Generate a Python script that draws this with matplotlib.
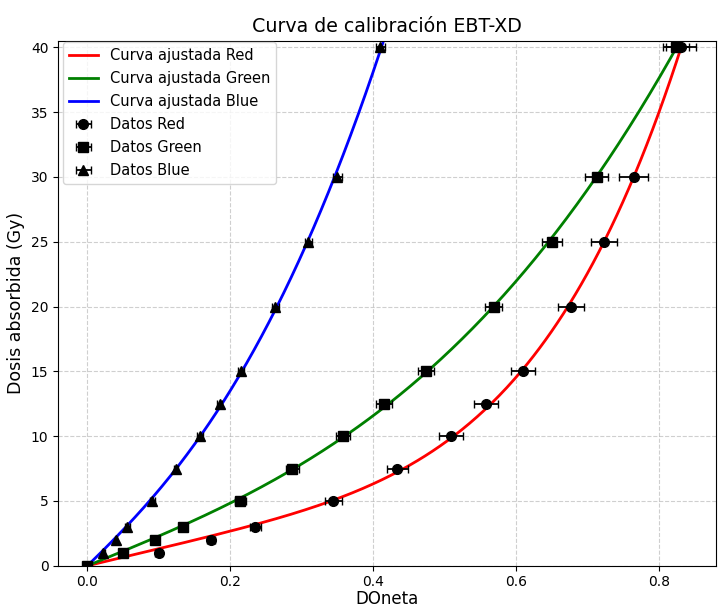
import numpy as np
import matplotlib.pyplot as plt

# Dosis (Gy) y densidad óptica neta por canal
dosis = [0, 1, 2, 3, 5, 7.5, 10, 12.5, 15, 20, 25, 30, 40]
don_red = [0, 0.100, 0.173, 0.235, 0.344, 0.434, 0.509, 0.558, 0.610, 0.677, 0.723, 0.765, 0.831]
don_green = [0, 0.050, 0.095, 0.134, 0.214, 0.287, 0.358, 0.415, 0.474, 0.569, 0.650, 0.713, 0.824]
don_blue = [0, 0.022, 0.040, 0.056, 0.091, 0.124, 0.158, 0.185, 0.215, 0.263, 0.309, 0.350, 0.410]
err_red = [0, 0.005, 0.006, 0.008, 0.012, 0.015, 0.017, 0.017, 0.017, 0.018, 0.018, 0.020, 0.021]
err_green = [0, 0.004, 0.005, 0.006, 0.008, 0.009, 0.010, 0.011, 0.011, 0.012, 0.014, 0.016, 0.018]
err_blue = [0, 0.002, 0.002, 0.003, 0.003, 0.003, 0.004, 0.004, 0.004, 0.005, 0.005, 0.006, 0.006]


def ajuste(x, d):
    # D = a*x + b*x^n, n por barrido, a y b por minimos cuadrados
    x = np.asarray(x)
    d = np.asarray(d)
    mejor = None
    for n in np.linspace(1.2, 8, 400):
        A = np.column_stack([x, x ** n])
        coef, *_ = np.linalg.lstsq(A, d, rcond=None)
        res = np.sum((A @ coef - d) ** 2)
        if mejor is None or res < mejor[0]:
            mejor = (res, coef[0], coef[1], n)
    return mejor[1:]


fig, ax = plt.subplots(figsize=(7.18, 6.09), dpi=100)
fig.subplots_adjust(left=0.081, right=0.997, top=0.933, bottom=0.071)

xs = np.linspace(0, max(don_red), 400)
for x, color, nombre in [(don_red, 'red', 'Red'), (don_green, 'green', 'Green'), (don_blue, 'blue', 'Blue')]:
    a, b, n = ajuste(x, dosis)
    ax.plot(xs, a * xs + b * xs ** n, color=color, lw=2, label='Curva ajustada ' + nombre)

ax.errorbar(don_red, dosis, xerr=err_red, fmt='o', color='black', capsize=3, ms=7,
            elinewidth=1.3, label='Datos Red')
ax.errorbar(don_green, dosis, xerr=err_green, fmt='s', color='black', capsize=3, ms=7,
            elinewidth=1.3, label='Datos Green')
ax.errorbar(don_blue, dosis, xerr=err_blue, fmt='^', color='black', capsize=3, ms=7,
            elinewidth=1.3, label='Datos Blue')

ax.set_xlim(-0.041, 0.88)
ax.set_ylim(0, 40.5)
ax.set_title('Curva de calibración EBT-XD', fontsize=13.7)
ax.set_xlabel('DOneta', fontsize=12, labelpad=0.5)
ax.set_ylabel('Dosis absorbida (Gy)', fontsize=12.5)
ax.grid(True, linestyle='--', alpha=0.6)
ax.legend(fontsize=10.5, loc='upper left', bbox_to_anchor=(0.005, 1.0), borderaxespad=0.1,
          labelspacing=0.55)

fig.savefig('out.png')
